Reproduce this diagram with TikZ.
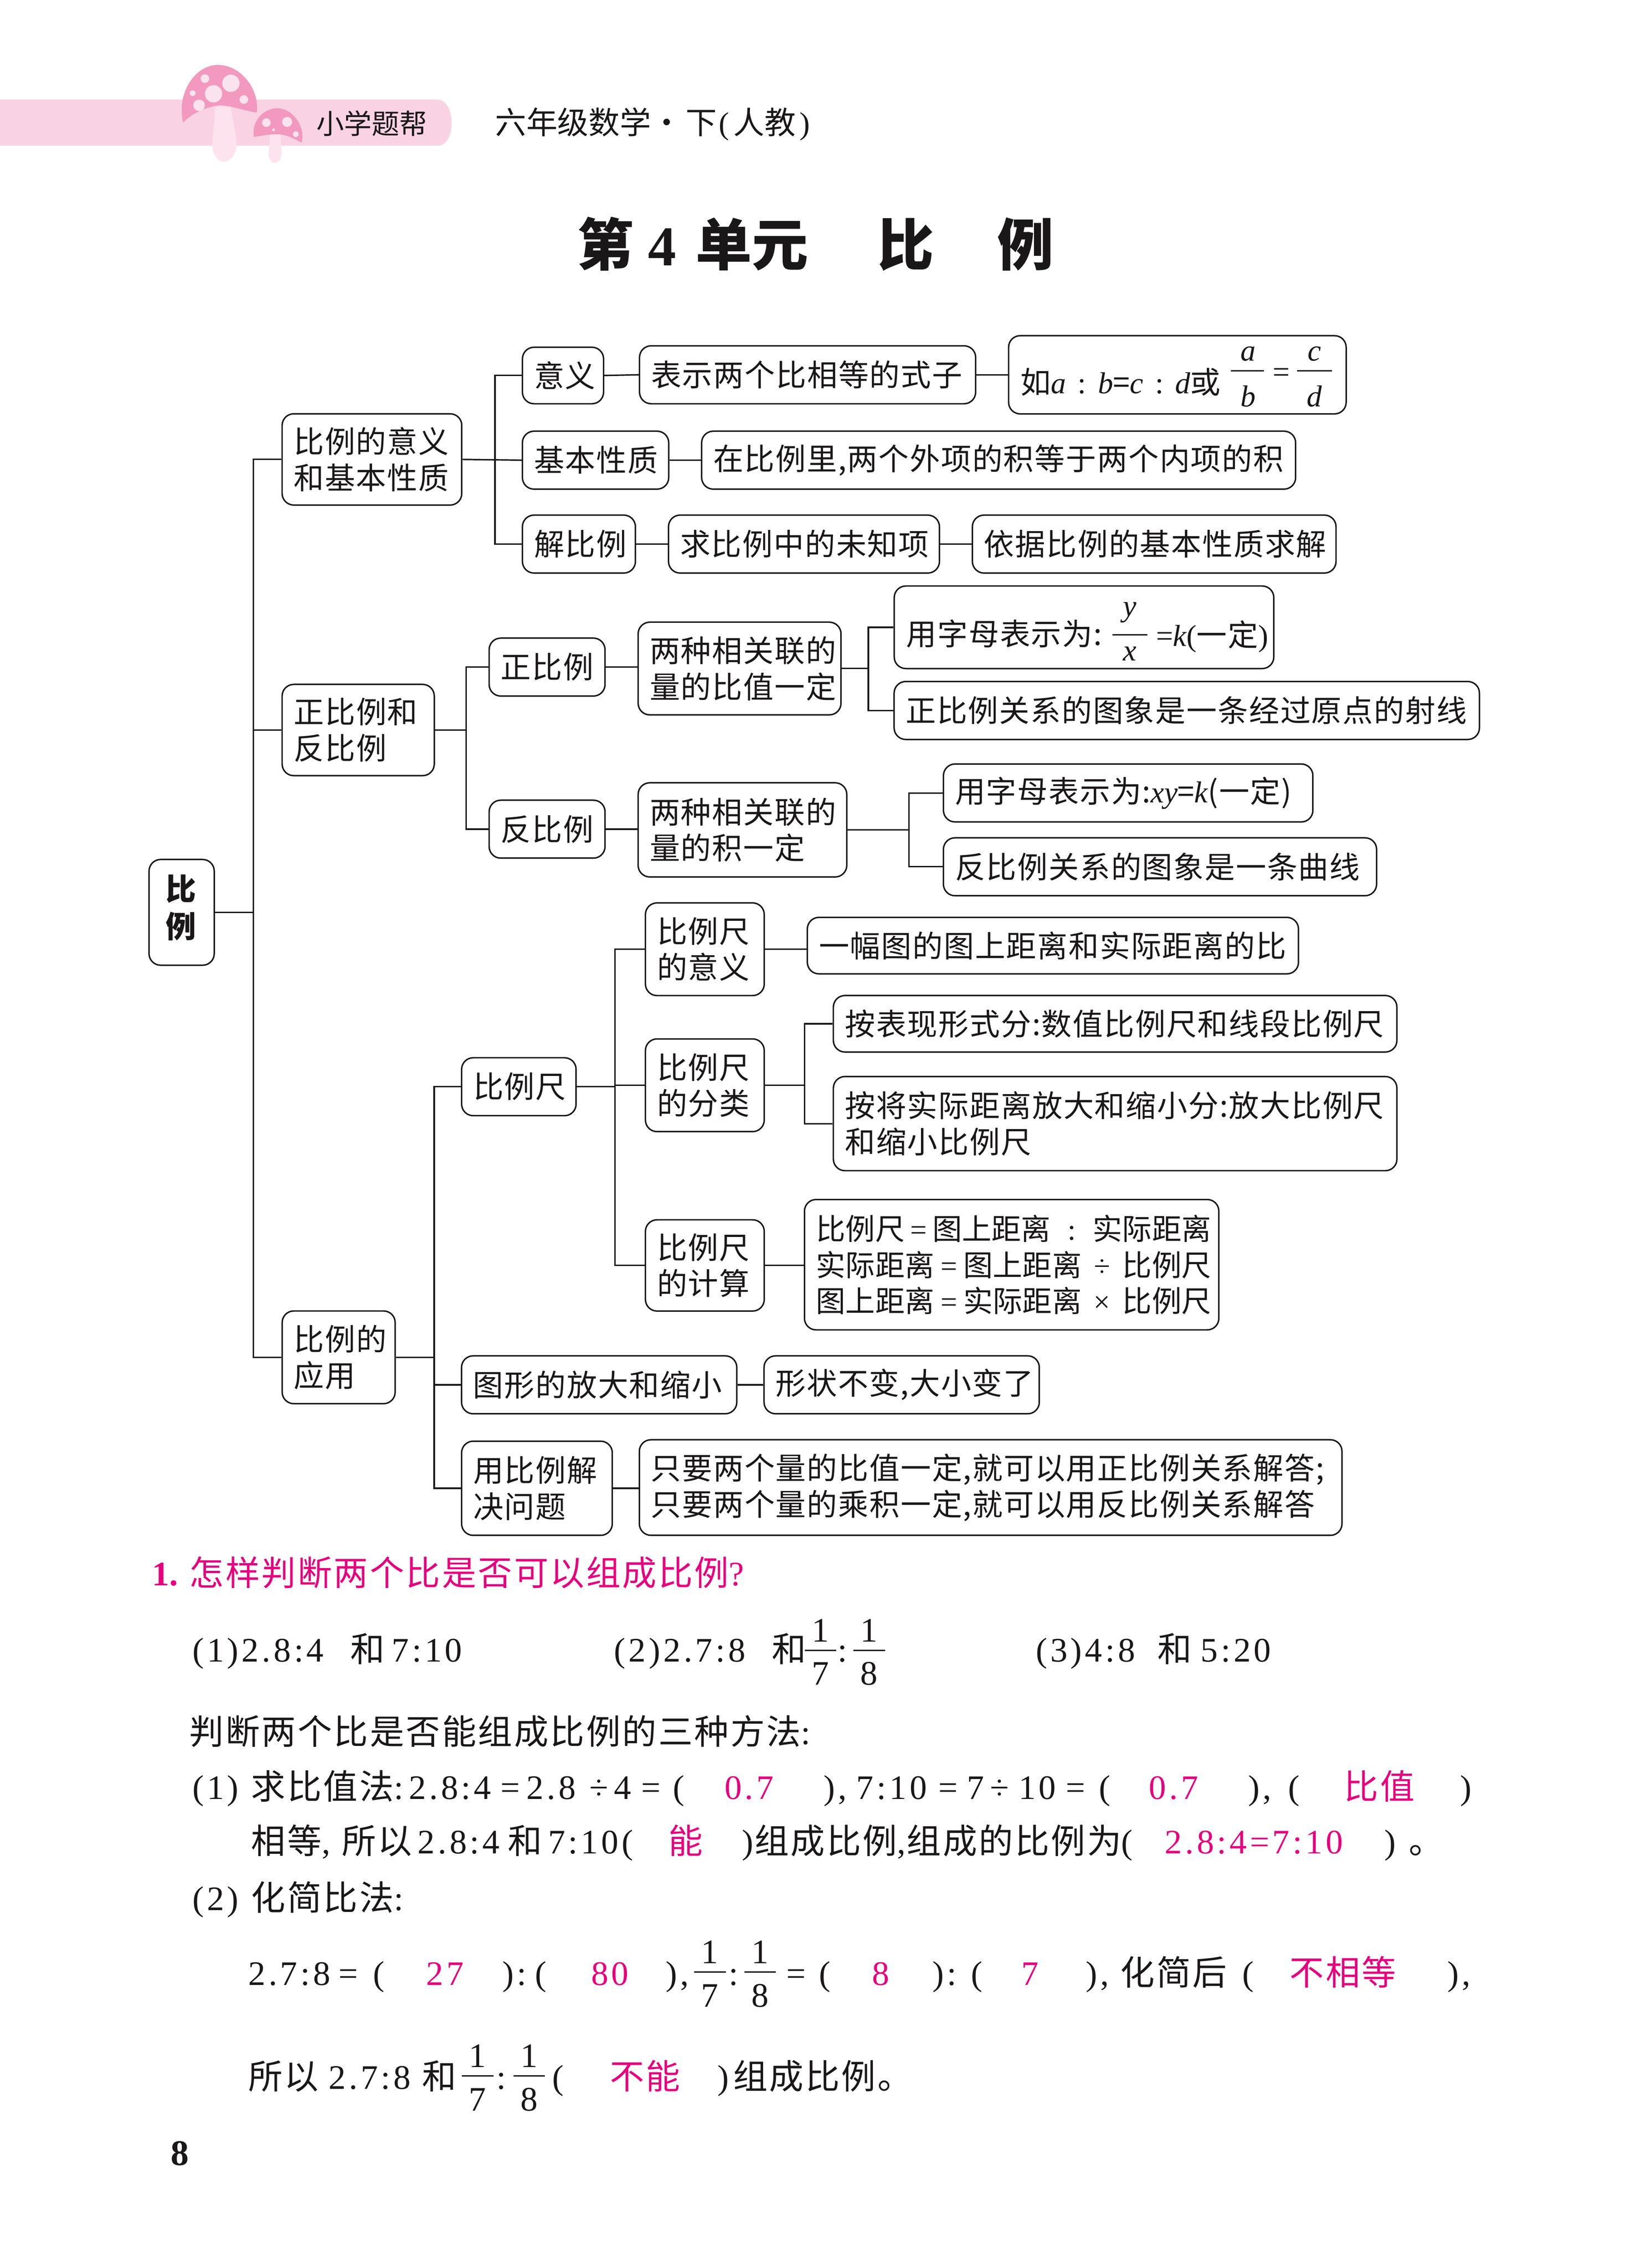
\documentclass[tikz,border=0pt]{standalone}
\usepackage{fontspec}
\setmainfont{Noto Sans CJK SC}
\newfontfamily\tr[LetterSpace=3]{Noto Sans CJK SC}
\newfontfamily\lo[LetterSpace=5]{Noto Sans CJK SC}
\newfontfamily\lat{Liberation Serif}
\newfontfamily\latw[LetterSpace=9]{Liberation Serif}
\XeTeXlinebreaklocale ""
\definecolor{mg}{HTML}{E6007E}
\definecolor{bann}{HTML}{F9D3E3}
\definecolor{capc}{HTML}{F398BF}
\definecolor{spot}{HTML}{FBE3EE}
\definecolor{stem}{HTML}{FCE3EE}
\definecolor{ink}{HTML}{1A1718}
\newcommand{\vi}[1]{{\lat\itshape #1}}
\newcommand{\mk}[2]{\makebox[#1bp]{\lat #2}}
\newcount\tn
\tikzset{
 box/.style={draw=ink,line width=1bp,rounded corners=8bp,inner xsep=8bp,inner ysep=0pt,align=left,text=ink,
   font=\fontsize{21}{25}\selectfont\tr},
 ln/.style={draw=ink,line width=1bp},
 txt/.style={anchor=base west,inner sep=0pt,text=ink,font=\fontsize{23.8}{28}\selectfont\lo},
 pk/.style={text=mg},
 cen/.style={anchor=base}
}
\newcommand{\bx}[6]{%
 \pgfmathsetmacro\bw{#4-#2}\pgfmathsetmacro\bh{#5-#3}\pgfmathsetmacro\tw{#4-#2-16}%
 \node[box,minimum width=\bw bp,minimum height=\bh bp,text width=\tw bp] (#1) at ({(#2+#4)/2},{(#3+#5)/2}) {#6};}
\newcommand{\tx}[4][]{\global\advance\tn by 1\relax
 \node[txt,#1] (t\the\tn) at (#2,#3) {#4};}
\newcommand{\tl}[4][]{\pgfmathsetmacro\by{#3+9}\tx[#1]{#2}{\by}{#4}}
\newcommand{\nl}[4][]{\pgfmathsetmacro\by{#3+9}\tx[#1]{#2}{\by}{{\latw #4}}}
\newcommand{\fr}[6]{%
 \tx[cen]{#1}{#2}{{\lat #5}}\tx[cen]{#1}{#4}{{\lat #6}}%
 \draw[ln] (#1-11,#3) -- (#1+11,#3);}
\begin{document}
\begin{tikzpicture}[x=0.999bp,y=-0.999bp]
\useasboundingbox (0,0) rectangle (1126.73,1567.37);
\fill[white] (0,0) rectangle (1126.73,1567.37);
\begin{scope}[x=0.996bp,y=-0.996bp]
% banner
\fill[bann] (0,69) -- (303,69) .. controls (310,69) and (313,78) .. (313,85) .. controls (313,93) and (310,101) .. (303,101) -- (0,101) -- cycle;
% big mushroom
\fill[stem] (149,74) .. controls (149,85) and (147,95) .. (147,102) .. controls (148,108) and (151,112) .. (155,112) .. controls (160,112) and (164,106) .. (164,100) .. controls (164,92) and (161,84) .. (160,74) -- cycle;
\fill[capc] (127,85) .. controls (122,65) and (135,45) .. (151,45) .. controls (167,45) and (180,62) .. (178,78) .. controls (170,77) and (160,73) .. (152,73) .. controls (143,74) and (132,79) .. (127,85) -- cycle;
\foreach \px/\py/\pr in {142/54.5/3,160/57.7/6,148/65/6,133.5/64.6/2,138/73/4,169/69/3}{\fill[spot] (\px,\py) circle[radius=\pr];}
% small mushroom
\fill[stem] (187,91) .. controls (187,100) and (186,105) .. (186,108) .. controls (187,111) and (189,113) .. (190,113) .. controls (193,113) and (195,110) .. (195,106) .. controls (195,100) and (194,96) .. (195,91) -- cycle;
\fill[capc] (176,95) .. controls (174,85) and (182,75) .. (192,75) .. controls (203,75) and (212,88) .. (209,99) .. controls (204,96) and (198,93) .. (192,93) .. controls (187,93) and (181,94) .. (176,95) -- cycle;
\foreach \px/\py/\pr in {184.6/85/3,199/84.5/3.5,189.6/90/1,205/93/2}{\fill[spot] (\px,\py) circle[radius=\pr];}
% header
\tx[font=\fontsize{19.2}{22}\selectfont]{219}{93}{小学题帮}
\tx[font=\fontsize{21.6}{24}\selectfont]{343}{93}{六年级数学}
\tx[font=\fontsize{21.6}{24}\selectfont]{451}{93}{·}
\tx[font=\fontsize{21.6}{24}\selectfont]{475}{93}{下}
\tx[font=\fontsize{21.6}{24}\selectfont]{498}{93}{\lat(}
\tx[font=\fontsize{21.6}{24}\selectfont]{508}{93}{人教}
\tx[font=\fontsize{21.6}{24}\selectfont]{554}{93}{\lat)}
% title
\tx[font=\fontsize{39}{42}\selectfont\bfseries]{400}{184}{第}
\tx[font=\fontsize{39}{42}\selectfont\bfseries]{449}{184}{\lat 4}
\tx[font=\fontsize{39}{42}\selectfont\bfseries]{482}{184}{单元}
\tx[font=\fontsize{39}{42}\selectfont\bfseries]{608}{184}{比}
\tx[font=\fontsize{39}{42}\selectfont\bfseries]{691}{184}{例}
\end{scope}
% ---------- tree boxes
\bx{root}{103}{594}{148}{667}{}
\bx{A}{195}{286}{319}{349}{比例的意义\\和基本性质}
\bx{B}{195}{473}{300}{536}{正比例和\\反比例}
\bx{C}{195}{906}{273}{970}{比例的\\应用}
\bx{ay}{361}{240}{417}{279}{意义}
\bx{ax}{361}{298}{462}{338}{基本性质}
\bx{aj}{361}{356}{439}{396}{解比例}
\bx{ay2}{442}{239}{674}{279}{表示两个比相等的式子}
\bx{ay3}{697}{232}{930}{286}{}
\bx{ax2}{485}{298}{895}{338}{在比例里,两个外项的积等于两个内项的积}
\bx{aj2}{462}{356}{649}{396}{求比例中的未知项}
\bx{aj3}{672}{356}{923}{396}{依据比例的基本性质求解}
\bx{zh}{338}{441}{418}{481}{正比例}
\bx{fa}{338}{553}{418}{593}{反比例}
\bx{zh2}{441}{430}{581}{494}{两种相关联的\\量的比值一定}
\bx{zh3}{618}{405}{880}{462}{}
\bx{zh4}{618}{471}{1022}{511}{正比例关系的图象是一条经过原点的射线}
\bx{fa2}{441}{541}{585}{606}{两种相关联的\\量的积一定}
\bx{fa3}{652}{528}{907}{568}{用字母表示为:\vi{xy}={\vi{k}}(一定)}
\bx{fa4}{652}{579}{951}{619}{反比例关系的图象是一条曲线}
\bx{cb}{319}{731}{398}{771}{比例尺}
\bx{ct}{319}{937}{509}{977}{图形的放大和缩小}
\bx{cy}{319}{996}{423}{1061}{用比例解\\决问题}
\bx{c1}{446}{624}{528}{688}{比例尺\\的意义}
\bx{c2}{446}{718}{528}{782}{比例尺\\的分类}
\bx{c3}{446}{843}{528}{906}{比例尺\\的计算}
\bx{c1a}{558}{634}{897}{673}{一幅图的图上距离和实际距离的比}
\bx{c2a}{576}{688}{965}{727}{按表现形式分:数值比例尺和线段比例尺}
\bx{c2b}{576}{744}{965}{809}{按将实际距离放大和缩小分:放大比例尺\\和缩小比例尺}
\bx{c3a}{556}{829}{842}{919}{\fontsize{20.5}{25}\selectfont\rmfamily 比例尺\mk{19}{=}图上距离\mk{29}{:}实际距离\\实际距离\mk{20}{=}图上距离\mk{28}{÷}比例尺\\图上距离\mk{20}{=}实际距离\mk{28}{×}比例尺}
\bx{ct2}{528}{937}{718}{977}{形状不变,大小变了}
\bx{cy2}{442}{995}{927}{1061}{只要两个量的比值一定,就可以用正比例关系解答;\\只要两个量的乘积一定,就可以用反比例关系解答}
% text set apart from its box
\tx[anchor=base,font=\fontsize{21}{24}\selectfont\bfseries]{125}{622}{比}
\tx[anchor=base,font=\fontsize{21}{24}\selectfont\bfseries]{125}{648}{例}
\tx[font=\fontsize{21}{24}\selectfont\tr]{705}{272}{如\vi{a}\mk{22}{:}\vi{b}=\vi{c}\mk{22}{:}\vi{d}或}
\tx[font=\fontsize{21}{24}\selectfont\tr]{626}{446}{用字母表示为:}
% ---------- connectors
\coordinate (tk) at (175,630.5);
\coordinate (busA) at (342,317.5);
\coordinate (busB) at (322,504.5);
\coordinate (busZ) at (600,462);
\coordinate (busF) at (628,573.5);
\coordinate (busC) at (300,938);
\coordinate (busS) at (425,751);
\coordinate (busK) at (556,750);
\draw[ln] (root.east) -- (tk);
\draw[ln] (A.west) -| (tk);
\draw[ln] (B.west) -| (tk);
\draw[ln] (C.west) -| (tk);
\draw[ln] (A.east) -- (ax.west);
\draw[ln] (ay.west) -| (busA);
\draw[ln] (aj.west) -| (busA);
\draw[ln] (ay.east) -- (ay2.west);
\draw[ln] (ay2.east) -- (ay2.east -| ay3.west);
\draw[ln] (ax.east) -- (ax2.west);
\draw[ln] (aj.east) -- (aj2.west);
\draw[ln] (aj2.east) -- (aj3.west);
\draw[ln] (B.east) -- (busB);
\draw[ln] (zh.west) -| (busB);
\draw[ln] (fa.west) -| (busB);
\draw[ln] (zh.east) -- (zh.east -| zh2.west);
\draw[ln] (zh2.east) -- (busZ);
\draw[ln] (zh3.west) -| (busZ);
\draw[ln] (zh4.west) -| (busZ);
\draw[ln] (fa.east) -- (fa.east -| fa2.west);
\draw[ln] (fa2.east) -- (busF);
\draw[ln] (fa3.west) -| (busF);
\draw[ln] (fa4.west) -| (busF);
\draw[ln] (C.east) -- (busC);
\draw[ln] (cb.west) -| (busC);
\draw[ln] (ct.west) -| (busC);
\draw[ln] (cy.west) -| (busC);
\draw[ln] (cb.east) -- (busS);
\draw[ln] (c1.west) -| (busS);
\draw[ln] (c2.west) -| (busS);
\draw[ln] (c3.west) -| (busS);
\draw[ln] (c1.east) -- (c1.east -| c1a.west);
\draw[ln] (c2.east) -- (busK);
\draw[ln] (c2a.west) -| (busK);
\draw[ln] (c2b.west) -| (busK);
\draw[ln] (c3.east) -- (c3.east -| c3a.west);
\draw[ln] (ct.east) -- (ct2.west);
\draw[ln] (cy.east) -- (cy.east -| cy2.west);
\begin{scope}[x=0.996bp,y=-0.996bp]
% fractions in boxes
\tikzset{cen/.append style={font=\fontsize{21}{24}\selectfont}}
\tx[cen]{865}{250}{\vi{a}}
\draw[ln] (853,257) -- (876,257);
\tx[cen]{865}{282}{\vi{b}}
\tx[cen]{888}{265}{\lat =}
\tx[cen]{911}{250}{\vi{c}}
\draw[ln] (899,257) -- (923,257);
\tx[cen]{911}{282}{\vi{d}}
\tx[cen]{783}{427}{\vi{y}}
\draw[ln] (771,440) -- (795,440);
\tx[cen]{783}{458}{\vi{x}}
\tx[txt,font=\fontsize{21}{24}\selectfont\tr]{801}{448}{{\lat =}\vi{k}{\lat (}一定{\lat )}}
\end{scope}
\begin{scope}[x=0.99bp,y=-0.996bp]
\tikzset{cen/.append style={font=\fontsize{23.8}{28}\selectfont}}
% ---------- lower text
\tx[pk,font=\fontsize{23.8}{28}\selectfont\bfseries]{106}{1099}{\lat 1.}
\tl[pk]{132}{1090}{怎样判断两个比是否可以组成比例\lat ?}
\nl{134}{1143}{(1)2.8:4}
\tl{244}{1143}{和}
\nl{273}{1143}{7:10}
\nl{428}{1143}{(2)2.7:8}
\tl{538}{1143}{和}
\fr{572}{1138}{1144}{1168}{1}{7}
\nl{584}{1143}{:}
\fr{606}{1138}{1144}{1168}{1}{8}
\nl{722}{1143}{(3)4:8}
\tl{807}{1143}{和}
\nl{837}{1143}{5:20}
\tl{132}{1200}{判断两个比是否能组成比例的三种方法\lat :}
% (1)
\nl{134}{1238}{(1)}
\tl{175}{1238}{求比值法\lat :}
\nl{285}{1238}{2.8:4}
\nl{349}{1238}{=}
\nl{367}{1238}{2.8}
\nl{411}{1238}{÷}
\nl{428}{1238}{4}
\nl{447}{1238}{=}
\nl{469}{1238}{(}
\nl[pk]{505}{1238}{0.7}
\nl{574}{1238}{),}
\nl{597}{1238}{7:10}
\nl{654}{1238}{=}
\nl{674}{1238}{7}
\nl{690}{1238}{÷}
\nl{710}{1238}{10}
\nl{743}{1238}{=}
\nl{766}{1238}{(}
\nl[pk]{801}{1238}{0.7}
\nl{870}{1238}{),}
\nl{898}{1238}{(}
\tl[pk]{937}{1238}{比值}
\nl{1018}{1238}{)}
% line 2
\tl{175}{1276}{相等\lat ,}
\tl{238}{1276}{所以}
\nl{291}{1276}{2.8:4}
\tl{354}{1276}{和}
\nl{382}{1276}{7:10(}
\tl[pk]{466}{1276}{能}
\nl{517}{1276}{)}
\tl{526}{1276}{组成比例\lat ,}
\tl{632}{1276}{组成的比例为\lat (}
\nl[pk]{812}{1276}{2.8:4=7:10}
\nl{965}{1276}{)}
\tl{982}{1276}{。}
\nl{134}{1315}{(2)}
\tl{175}{1315}{化简比法\lat :}
% line 3
\nl{173}{1367}{2.7:8}
\nl{236}{1367}{=}
\nl{260}{1367}{(}
\nl[pk]{297}{1367}{27}
\nl{350}{1367}{):}
\nl{373}{1367}{(}
\nl[pk]{412}{1367}{80}
\nl{464}{1367}{),}
\fr{495}{1361}{1367}{1391}{1}{7}
\nl{508}{1367}{:}
\fr{530}{1361}{1367}{1391}{1}{8}
\nl{548}{1367}{=}
\nl{571}{1367}{(}
\nl[pk]{608}{1367}{8}
\nl{650}{1367}{):}
\nl{677}{1367}{(}
\nl[pk]{712}{1367}{7}
\nl{757}{1367}{),}
\tl{781}{1367}{化简后}
\nl{866}{1367}{(}
\tl[pk]{899}{1367}{不相等}
\nl{1009}{1367}{),}
% line 4
\tl{173}{1439}{所以}
\nl{229}{1439}{2.7:8}
\tl{294}{1439}{和}
\fr{333}{1433}{1439}{1463}{1}{7}
\nl{346}{1439}{:}
\fr{369}{1433}{1439}{1463}{1}{8}
\nl{385}{1439}{(}
\tl[pk]{425}{1439}{不能}
\nl{500}{1439}{)}
\tl{511}{1439}{组成比例。}
\tx[font=\fontsize{25}{28}\selectfont\bfseries]{119}{1501}{\lat 8}
\end{scope}
\end{tikzpicture}
\end{document}
